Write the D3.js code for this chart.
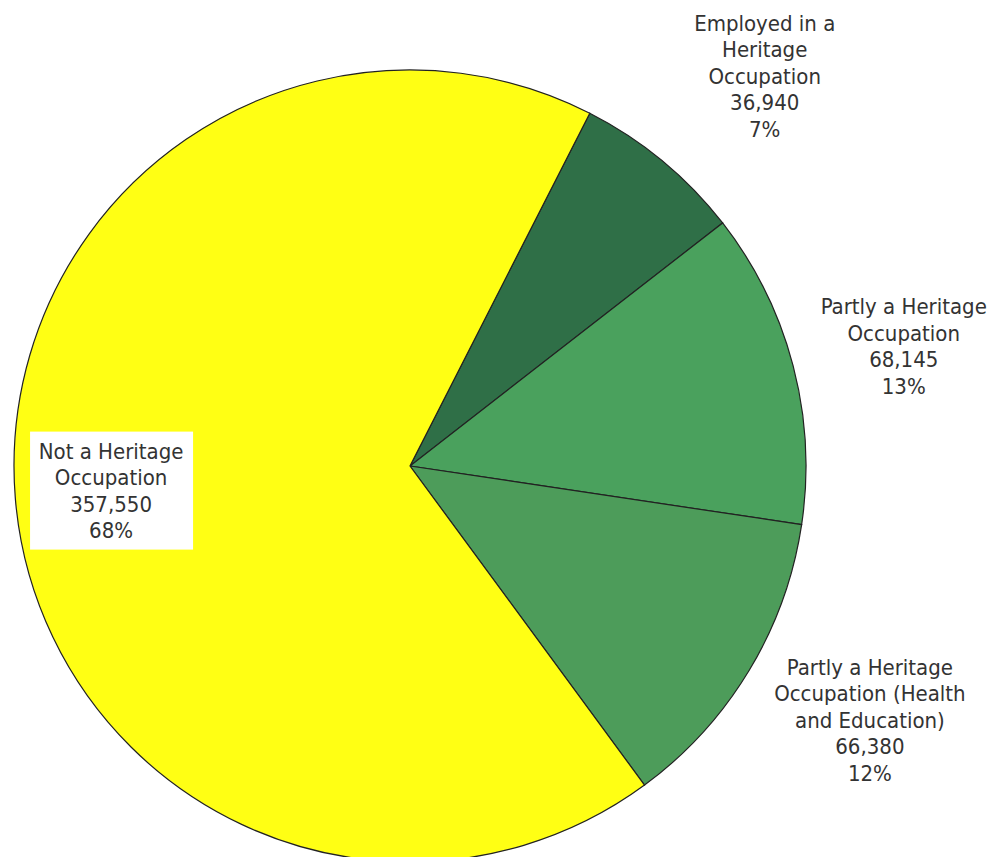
<!DOCTYPE html>
<html><head><meta charset="utf-8">
<script src="https://cdn.jsdelivr.net/npm/d3@7"></script>
<style>body{margin:0;background:#fff}svg{display:block}</style>
</head><body><svg id="c" width="994" height="857"></svg>
<script>
const categories = ["Employed in a Heritage Occupation","Partly a Heritage Occupation","Partly a Heritage Occupation (Health and Education)","Not a Heritage Occupation"];
const labelLines = [["Employed in a","Heritage","Occupation"],["Partly a Heritage","Occupation"],["Partly a Heritage","Occupation (Health","and Education)"],["Not a Heritage","Occupation"]];
const values = [36940, 68145, 66380, 357550];
const percents = ["7%","13%","12%","68%"];
const colors = ["#2f6f47","#4aa15d","#4d9c5a","#ffff14"];

const W=994,H=857,cx=410,cy=466,R=396;
// label nudges (layout only)
const nudge=[[23,11],[-10,12],[14,-15],[3,0]];
const svg=d3.select("#c");
const g=svg.append("g").attr("transform",`translate(${cx},${cy})`);
const a0=27*Math.PI/180;
const pie=d3.pie().sort(null).value(d=>d).startAngle(a0).endAngle(a0+2*Math.PI);
const arcs=pie(values);
const arc=d3.arc().innerRadius(0).outerRadius(R);
g.selectAll("path").data(arcs).join("path").attr("d",arc)
 .attr("fill",(d,i)=>colors[i]).attr("stroke","#222").attr("stroke-width",1.2);

const fmt=d3.format(",");
const lh=26.5;
arcs.forEach((d,i)=>{
  const inside = i===3;
  const rr = inside ? 0.765*R : 1.315*R;
  const m=(d.startAngle+d.endAngle)/2;
  const x=Math.sin(m)*rr+nudge[i][0], y=-Math.cos(m)*rr+nudge[i][1];
  const lines=labelLines[i].concat([fmt(values[i]),percents[i]]);
  const y0=y-(lines.length-1)*lh/2;
  const lg=g.append("g");
  if(inside){
    lg.append("rect").attr("x",x-81).attr("y",y-59).attr("width",163).attr("height",118).attr("fill","#fff");
  }
  lg.selectAll("text").data(lines).join("text")
    .attr("x",x).attr("y",(t,j)=>y0+j*lh+8)
    .attr("text-anchor","middle")
    .attr("font-family","DejaVu Sans Condensed, DejaVu Sans, sans-serif")
    .attr("font-stretch","condensed")
    .attr("font-size",22).attr("fill","#333").text(t=>t);
});
</script></body></html>
